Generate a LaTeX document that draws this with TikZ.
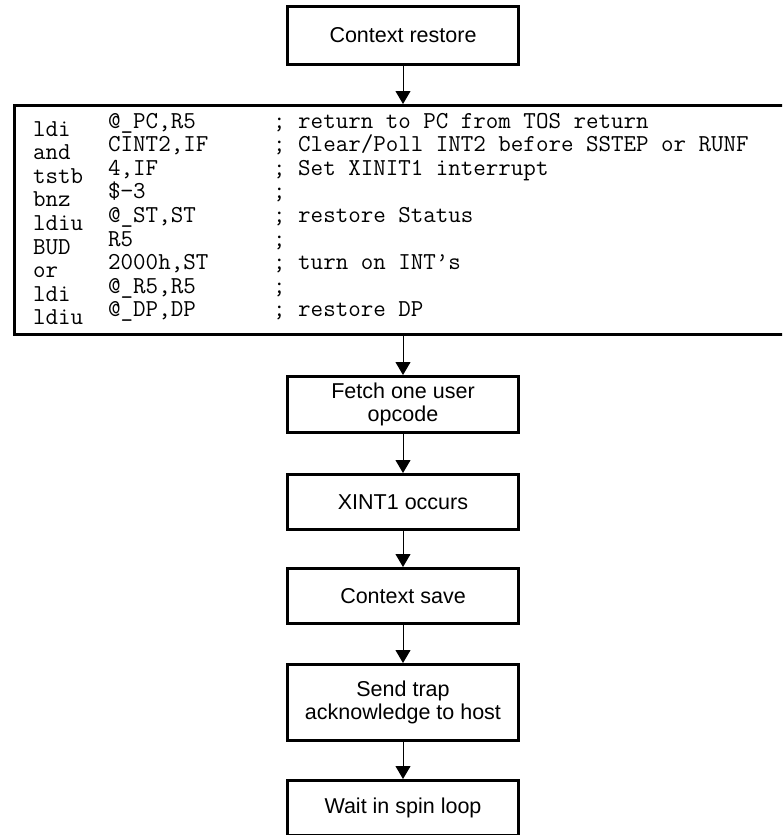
\documentclass[tikz,border=0pt]{standalone}
\usepackage{fontspec}
\setmainfont{Liberation Sans}
\usetikzlibrary{arrows.meta}
\tikzset{
  flowbox/.style={draw, line width=3pt, minimum width=231pt, inner sep=0pt,
    align=center, font=\fontsize{21.5}{23.5}\selectfont},
  codebox/.style={draw, line width=3pt, inner sep=0pt},
  codetxt/.style={anchor=base west, inner sep=0pt, font=\ttfamily\fontsize{24.3}{24.3}\selectfont},
  flowarrow/.style={line width=1pt, -{Triangle[width=15pt,length=13pt]}}
}
\begin{document}
\begin{tikzpicture}[x=1pt,y=-1pt]
\clip (0,0) rectangle (782,835);
\fill[white] (0,0) rectangle (782,835);
% flow boxes
\node[flowbox, minimum height=58pt] (restore) at (403,35.5) {Context restore};
\node[codebox, minimum width=805pt, minimum height=229pt] (code) at (417,220) {};
\node[flowbox, minimum height=56pt] (fetch) at (403,404.5) {Fetch one user\\opcode};
\node[flowbox, minimum height=55pt] (xint) at (403,502) {XINT1 occurs};
\node[flowbox, minimum height=55pt] (save) at (403,596) {Context save};
\node[flowbox, minimum height=76pt] (send) at (403,702.5) {Send trap\\acknowledge to host};
\node[flowbox, minimum height=55pt] (wait) at (403,808) {Wait in spin loop};
% code lines: mnemonics
\node[codetxt] (m1) at (33,136.0) {ldi};
\node[codetxt] (m2) at (33,159.6) {and};
\node[codetxt] (m3) at (33,183.2) {tstb};
\node[codetxt] (m4) at (33,206.8) {bnz};
\node[codetxt] (m5) at (33,230.4) {ldiu};
\node[codetxt] (m6) at (33,254.0) {BUD};
\node[codetxt] (m7) at (33,277.6) {or};
\node[codetxt] (m8) at (33,301.2) {ldi};
\node[codetxt] (m9) at (33,324.8) {ldiu};
% operands
\node[codetxt] (o1) at (108,128.0) {@\_PC,R5};
\node[codetxt] (o2) at (108,151.6) {CINT2,IF};
\node[codetxt] (o3) at (108,175.2) {4,IF};
\node[codetxt] (o4) at (108,198.8) {\$−3};
\node[codetxt] (o5) at (108,222.4) {@\_ST,ST};
\node[codetxt] (o6) at (108,246.0) {R5};
\node[codetxt] (o7) at (108,269.6) {2000h,ST};
\node[codetxt] (o8) at (108,293.2) {@\_R5,R5};
\node[codetxt] (o9) at (108,316.8) {@\_DP,DP};
% comments
\node[codetxt] (c1) at (273,128.0) {; return to PC from TOS return};
\node[codetxt] (c2) at (273,151.6) {; Clear/Poll INT2 before SSTEP or RUNF};
\node[codetxt] (c3) at (273,175.2) {; Set XINIT1 interrupt};
\node[codetxt] (c4) at (273,198.8) {;};
\node[codetxt] (c5) at (273,222.4) {; restore Status};
\node[codetxt] (c6) at (273,246.0) {;};
\node[codetxt] (c7) at (273,269.6) {; turn on INT’s};
\node[codetxt] (c8) at (273,293.2) {;};
\node[codetxt] (c9) at (273,316.8) {; restore DP};
% connectors
\draw[flowarrow] (restore.south) -- (restore.south |- code.north);
\draw[flowarrow] (fetch.north |- code.south) -- (fetch.north);
\draw[flowarrow] (fetch.south) -- (xint.north);
\draw[flowarrow] (xint.south) -- (save.north);
\draw[flowarrow] (save.south) -- (send.north);
\draw[flowarrow] (send.south) -- (wait.north);
\end{tikzpicture}
\end{document}
